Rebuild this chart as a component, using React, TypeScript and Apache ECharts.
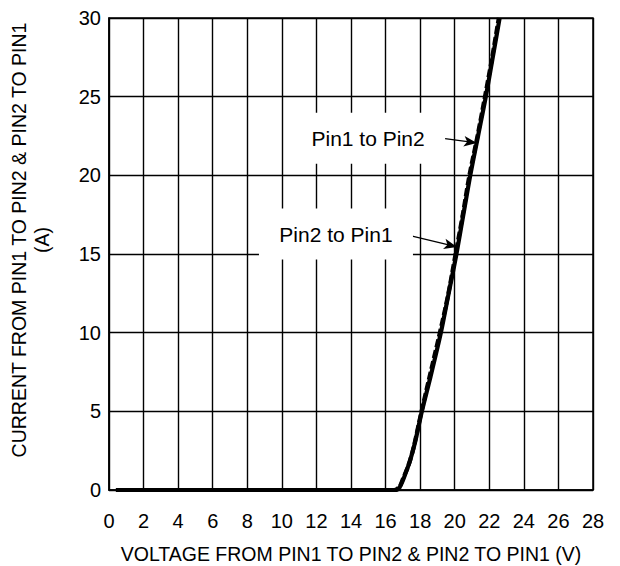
import React, { useEffect, useRef } from "react";
import * as echarts from "echarts";

// Tick settings
const xTicks = { min: 0, max: 28, interval: 2 };
const yTicks = { min: 0, max: 30, interval: 5 };

// Series values [voltage (V), current (A)]
const pin1ToPin2: [number, number][] = [
  [0.4, 0], [16.6, 0], [16.8, 0.15], [17.0, 0.6], [17.2, 1.2], [17.4, 1.8],
  [17.7, 3.0], [18.1, 5.0], [18.6, 7.2], [19.2, 10], [19.65, 12.5], [20.1, 15],
  [20.5, 17.5], [20.9, 20], [21.35, 22.5], [21.8, 25], [22.2, 27.5], [22.6, 30],
];
const pin2ToPin1: [number, number][] = [
  [0.4, 0], [16.5, 0], [16.8, 0.2], [17.0, 0.7], [17.3, 1.5], [17.6, 2.6],
  [18.0, 4.6], [18.5, 7.0], [19.1, 9.8], [19.6, 12.3], [20.05, 15], [20.45, 17.4],
  [20.85, 20], [21.3, 22.4], [21.75, 25], [22.15, 27.4], [22.55, 30],
];

// Annotation labels (centre in data coords) and arrows (from -> to, data coords)
const labelNames = ["Pin1 to Pin2", "Pin2 to Pin1"];
const labelCenters: [number, number][] = [[14.99, 22.35], [13.13, 16.27]];
const arrowFrom: [number, number][] = [[18.68, 22.44], [17.24, 16.21]];
const arrowTo: [number, number][] = [[21.28, 22.06], [20.13, 15.45]];

const xTitle = "VOLTAGE FROM PIN1 TO PIN2 & PIN2 TO PIN1 (V)";
const yTitle = "CURRENT FROM PIN1 TO PIN2 & PIN2 TO PIN1\n(A)";

const FONT = "Liberation Sans, Arial, Helvetica, sans-serif";

export default function App() {
  const ref = useRef<HTMLDivElement>(null);
  useEffect(() => {
    if (!ref.current) return;
    const chart = echarts.init(ref.current, undefined, { renderer: "svg" });
    const black = "#000";
    chart.setOption({
      animation: false,
      backgroundColor: "#fff",
      textStyle: { fontFamily: FONT },
      grid: {
        left: 109, right: 27, top: 18, bottom: 76,
        containLabel: false,
        outerBoundsMode: "none",
        show: true, borderColor: black, borderWidth: 1.5, backgroundColor: "transparent",
      },
      graphic: [
        {
          type: "text",
          x: 30,
          y: 240,
          rotation: Math.PI / 2,
          style: {
            text: yTitle,
            align: "center",
            verticalAlign: "middle",
            fill: black,
            font: `19.5px ${FONT}`,
            lineHeight: 23,
          },
        },
      ],
      xAxis: {
        type: "value",
        min: xTicks.min, max: xTicks.max, interval: xTicks.interval,
        name: xTitle,
        nameLocation: "middle",
        nameGap: 54,
        nameTextStyle: { color: black, fontSize: 19.5, fontFamily: FONT },
        axisLine: { show: true, lineStyle: { color: black, width: 1.5 } },
        axisTick: { show: false },
        axisLabel: { color: black, fontSize: 20, margin: 21, fontFamily: FONT },
        splitLine: { show: true, lineStyle: { color: black, width: 1.4 } },
      },
      yAxis: {
        type: "value",
        min: yTicks.min, max: yTicks.max, interval: yTicks.interval,
        axisLine: { show: true, lineStyle: { color: black, width: 1.5 } },
        axisTick: { show: false },
        axisLabel: { color: black, fontSize: 20, margin: 8, fontFamily: FONT },
        splitLine: { show: true, lineStyle: { color: black, width: 1.4 } },
      },
      series: [
        {
          name: "Pin1 to Pin2",
          type: "line",
          data: pin1ToPin2,
          showSymbol: false,
          smooth: 0.3,
          lineStyle: { color: black, width: 4.2 },
          z: 5,
          markPoint: {
            silent: true,
            data: labelNames.map((n, i) => ({
              name: n,
              coord: labelCenters[i],
              symbol: "rect",
              symbolSize: [154, 51],
              itemStyle: { color: "#fff" },
              label: {
                show: true,
                position: "inside",
                formatter: n,
                color: black,
                fontSize: 21,
                fontFamily: FONT,
              },
            })),
          },
          markLine: {
            silent: true,
            symbol: ["none", "arrow"],
            symbolSize: [8, 13],
            label: { show: false },
            lineStyle: { color: black, width: 1.3, type: "solid" },
            data: arrowFrom.map((f, i) => [{ coord: f }, { coord: arrowTo[i] }]),
          },
        },
        {
          name: "Pin2 to Pin1",
          type: "line",
          data: pin2ToPin1,
          showSymbol: false,
          smooth: 0.3,
          lineStyle: { color: black, width: 4.2, type: [8, 3] },
          z: 5,
        },
      ],
    });
    return () => chart.dispose();
  }, []);
  return (
    <div
      ref={ref}
      style={{ position: "fixed", left: 0, top: 0, width: 620, height: 566, background: "#fff" }}
    />
  );
}
